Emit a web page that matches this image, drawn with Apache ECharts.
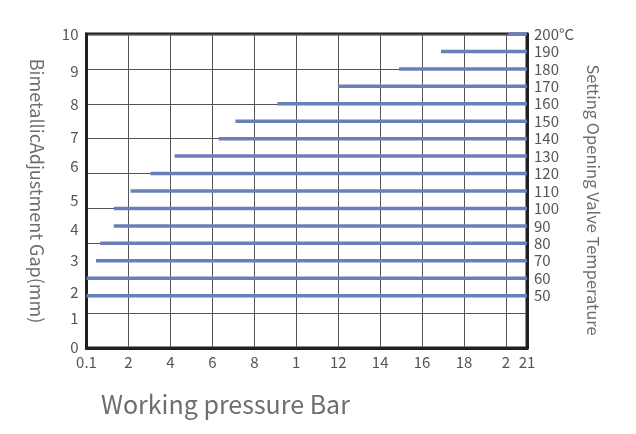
<!DOCTYPE html>
<html>
<head>
<meta charset="utf-8">
<script src="https://cdn.jsdelivr.net/npm/echarts@6/dist/echarts.min.js"></script>
<style>
html,body{margin:0;padding:0;background:#fff;}
#chart{width:636px;height:434px;}
</style>
</head>
<body>
<div id="chart"></div>
<script>
// Setting opening valve temperature (°C) for each line
var tempValues = [200, 190, 180, 170, 160, 150, 140, 130, 120, 110, 100, 90, 80, 70, 60, 50];
// Working pressure (Bar) where each line starts; all lines run to the max pressure
var startPressure = [20.1, 16.9, 14.9, 12.0, 9.1, 7.1, 6.3, 4.2, 3.05, 2.1, 1.3, 1.3, 0.65, 0.45, 0, 0];
var maxPressure = 21;
// X tick values and labels as printed
var xTickValues = [0, 2, 4, 6, 8, 10, 12, 14, 16, 18, 20, 21];
var xTickLabels = ['0.1', '2', '4', '6', '8', '1', '12', '14', '16', '18', '2', '21'];
// Bimetallic gap labels (mm) and the temperature each one sits at
var gapLabels = ['0', '1', '2', '3', '4', '5', '6', '7', '8', '9', '10'];
var gapTemps = [20.6, 36.9, 51.8, 70, 88.3, 104.9, 124.1, 140.6, 159.6, 178.7, 200];
// Right-axis temperature labels
var tempTickValues = [50, 60, 70, 80, 90, 100, 110, 120, 130, 140, 150, 160, 170, 180, 190, 200];
var tempTickLabels = ['50', '60', '70', '80', '90', '100', '110', '120', '130', '140', '150', '160', '170', '180', '190', '200°C'];

var FONT = '"Noto Sans CJK SC", "Noto Sans", sans-serif';
var chart = echarts.init(document.getElementById('chart'), null, {renderer: 'canvas'});

var segs = tempValues.map(function (t, i) { return [startPressure[i], t, maxPressure]; });

chart.setOption({
  animation: false,
  backgroundColor: '#fff',
  title: {
    text: 'Working pressure Bar',
    left: 96, top: 387,
    textStyle: {fontFamily: FONT, fontSize: 25, fontWeight: 'normal', color: '#6e6e6e'}
  },
  grid: {
    left: 86.5, right: 636 - 527, top: 34, bottom: 434 - 348,
    show: true, borderColor: '#231f20', borderWidth: 3, backgroundColor: 'transparent'
  },
  xAxis: {
    type: 'value', min: 0, max: 21, interval: 2,
    axisLine: {show: true, onZero: false, lineStyle: {color: '#231f20', width: 3}},
    axisTick: {show: false},
    splitLine: {show: true, lineStyle: {color: '#555', width: 1}},
    axisLabel: {
      fontFamily: FONT, fontSize: 15, color: '#555', margin: 7,
      customValues: xTickValues,
      formatter: function (v) {
        var i = xTickValues.indexOf(Math.round(v * 100) / 100);
        return i >= 0 ? xTickLabels[i] : '';
      }
    }
  },
  yAxis: [
    {
      type: 'value', position: 'left', min: 20, max: 200, interval: 20,
      axisLine: {show: true, onZero: false, lineStyle: {color: '#231f20', width: 3}},
      axisTick: {show: false},
      splitLine: {show: true, lineStyle: {color: '#555', width: 1}},
      axisLabel: {
        fontFamily: FONT, fontSize: 15, color: '#555', margin: 8,
        customValues: gapTemps,
        formatter: function (v) {
          var best = 0, d = 1e9;
          gapTemps.forEach(function (g, i) { if (Math.abs(g - v) < d) { d = Math.abs(g - v); best = i; } });
          return gapLabels[best];
        }
      },
      name: 'BimetallicAdjustment Gap(mm)',
      nameLocation: 'middle', nameRotate: -90, nameGap: 41,
      nameTextStyle: {fontFamily: FONT, fontSize: 18, color: '#6e6e6e'}
    },
    {
      type: 'value', position: 'right', min: 20, max: 200, interval: 10,
      axisLine: {show: true, onZero: false, lineStyle: {color: '#231f20', width: 3}},
      axisTick: {show: false},
      splitLine: {show: false},
      axisLabel: {
        fontFamily: FONT, fontSize: 15, color: '#555', margin: 7,
        customValues: tempTickValues,
        formatter: function (v) {
          var i = tempTickValues.indexOf(Math.round(v));
          return i >= 0 ? tempTickLabels[i] : '';
        }
      },
      name: 'Setting Opening Valve Temperature',
      nameLocation: 'middle', nameRotate: -90, nameGap: 58,
      nameTextStyle: {fontFamily: FONT, fontSize: 16.5, color: '#6e6e6e', padding: [0, 0, 0, 18]}
    }
  ],
  series: [{
    type: 'custom',
    yAxisIndex: 1,
    data: segs,
    renderItem: function (params, api) {
      var a = api.coord([api.value(0), api.value(1)]);
      var b = api.coord([api.value(2), api.value(1)]);
      return {
        type: 'line',
        shape: {x1: a[0], y1: a[1], x2: b[0], y2: b[1]},
        style: {stroke: '#6a7fb9', lineWidth: 3.5, lineCap: 'butt'}
      };
    }
  }]
});
</script>
</body>
</html>
